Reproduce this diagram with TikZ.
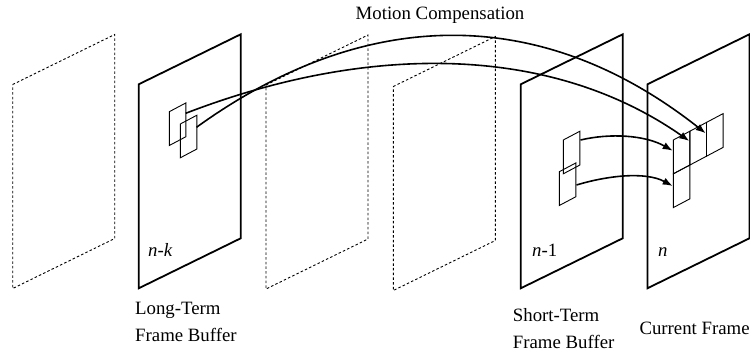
\documentclass[tikz,border=0pt]{standalone}
\usepackage{fontspec}
\setmainfont{Liberation Serif}
\usetikzlibrary{arrows.meta}
\newcommand\ParFrame[3]{\draw[#1] (#2,#3) -- ++(102,-50) -- ++(0,204) -- ++(-102,50) -- cycle;}
\newcommand\SmallBlk[2]{\draw[blk] (#1,#2) -- ++(16.6,-8.8) -- ++(0,33.8) -- ++(-16.6,8.8) -- cycle;}
\begin{document}
\begin{tikzpicture}[x=1pt,y=-1pt,
  framesolid/.style={line width=1.8pt, line join=miter},
  framedash/.style={line width=0.9pt, dash pattern=on 2.5pt off 2.2pt},
  blk/.style={line width=0.9pt},
  mc/.style={line width=1.6pt, -{Latex[length=10pt,width=7.5pt]}},
  lbl/.style={font=\fontsize{18.8}{27}\selectfont, inner sep=0pt, align=left},
]
\useasboundingbox (0,0) rectangle (750,354);

% frames
\ParFrame{framedash}{12.7}{84.5}
\ParFrame{framesolid}{138.7}{84.3}
\ParFrame{framedash}{266}{85}
\ParFrame{framedash}{393.3}{86.5}
\ParFrame{framesolid}{520.7}{84.3}
\ParFrame{framesolid}{647.4}{84.3}

% blocks in frame n-k
\SmallBlk{169.3}{111.7}
\SmallBlk{180.3}{124}
% blocks in frame n-1
\SmallBlk{563.3}{140}
\SmallBlk{559.3}{171.7}
% blocks in frame n
\SmallBlk{673.3}{140}
\SmallBlk{673.3}{173.8}
\SmallBlk{689.9}{131.2}
\SmallBlk{706.5}{122.4}

% connector end points
\coordinate (u0) at (196.5,127.3);
\coordinate (u3) at (705.7,133.3);
\coordinate (l0) at (185.7,113.3);
\coordinate (l3) at (689.3,141);
\coordinate (e0) at (580.5,140);
\coordinate (e3) at (672.7,150.7);
\coordinate (f0) at (576.5,185);
\coordinate (f3) at (672.7,186);

\draw[mc] (u0) .. controls (362.5,7.4) and (539.2,1.8) .. (u3);
\draw[mc] (l0) .. controls (365.7,43.8) and (549.3,43) .. (l3);
\draw[mc] (e0) .. controls (610,133) and (645,135) .. (e3);
\draw[mc] (f0) .. controls (606,176) and (645,171) .. (f3);

% labels
\node[lbl, anchor=base] (mctext) at (440,19) {Motion Compensation};
\node[lbl, anchor=base west] (lt) at (135,341.7) {Long-Term\\Frame Buffer};
\node[lbl, anchor=base west] (st) at (512.7,348.5) {Short-Term\\Frame Buffer};
\node[lbl, anchor=base west] (cf) at (639.3,334) {Current Frame};
\node[lbl, anchor=base west] (nk) at (148,256) {\textit{n}-\textit{k}};
\node[lbl, anchor=base west] (n1) at (532,256) {\textit{n}-1};
\node[lbl, anchor=base west] (nn) at (658,256) {\textit{n}};
\end{tikzpicture}
\end{document}
